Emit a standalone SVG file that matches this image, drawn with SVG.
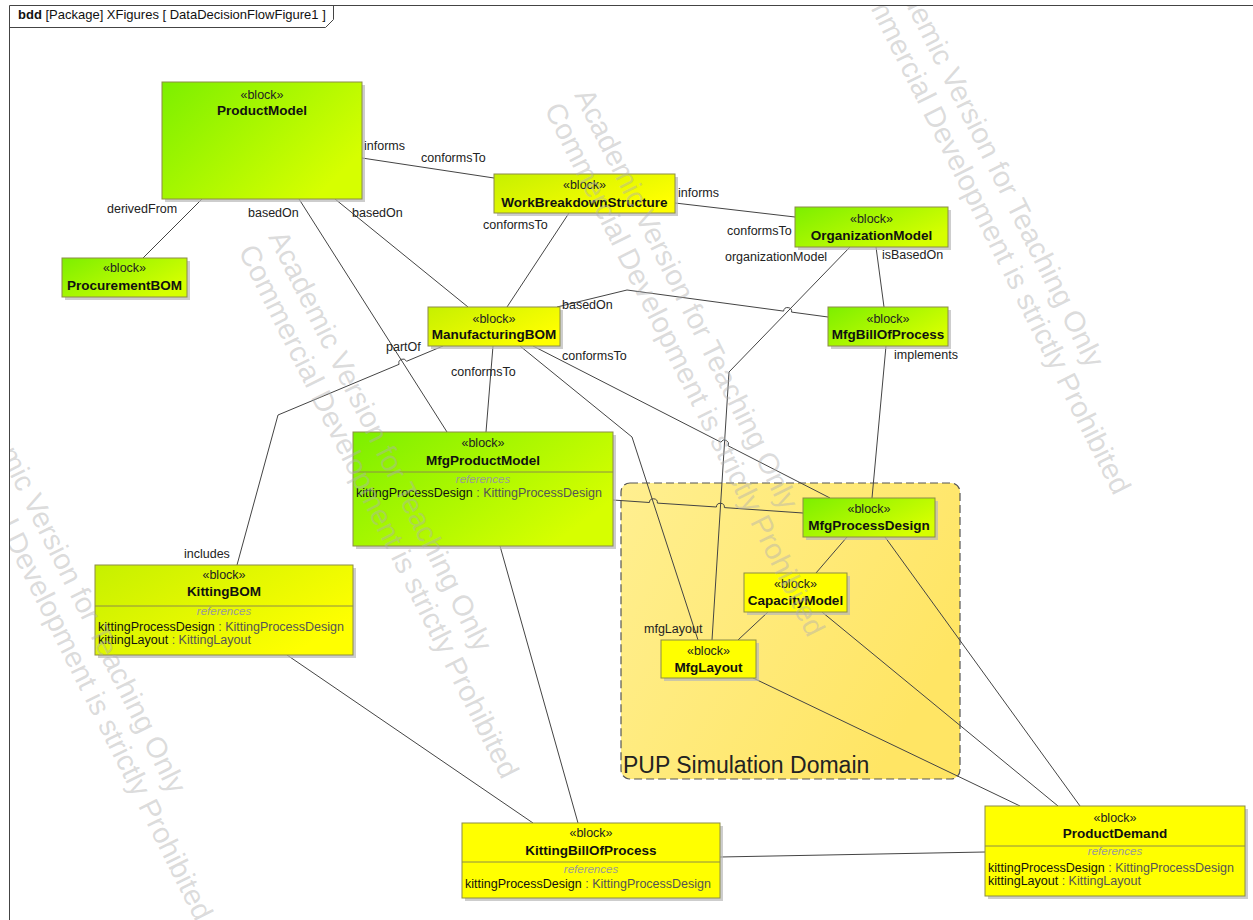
<svg xmlns="http://www.w3.org/2000/svg" width="1253" height="920" viewBox="0 0 1253 920">
  <defs>
    <linearGradient id="gGreen" x1="0" y1="0" x2="1" y2="0.6">
      <stop offset="0" stop-color="#7cef00"/>
      <stop offset="1" stop-color="#d6ff00"/>
    </linearGradient>
    <linearGradient id="gLime" x1="0" y1="0" x2="1" y2="0.6">
      <stop offset="0" stop-color="#c6f000"/>
      <stop offset="1" stop-color="#ffff00"/>
    </linearGradient>
    <linearGradient id="gDomain" x1="0" y1="0" x2="1" y2="0.5">
      <stop offset="0" stop-color="#ffef90"/>
      <stop offset="1" stop-color="#ffe564"/>
    </linearGradient>
    <clipPath id="sheet">
      <rect x="10" y="6" width="1243" height="914"/>
    </clipPath>
    <style>
      text { font-family: "Liberation Sans", Arial, sans-serif; }
      .sh { fill: #b8b8b8; opacity: 0.7; }
      .box { stroke: #8c8c48; stroke-width: 1; }
      .green { fill: url(#gGreen); }
      .lime { fill: url(#gLime); }
      .yellow { fill: #ffff00; }
      .sep { stroke: #8c8c48; stroke-width: 1; }
      .st { font-size: 12.5px; text-anchor: middle; fill: #222; }
      .nm { font-size: 13.5px; font-weight: bold; text-anchor: middle; fill: #111; }
      .ref { font-size: 11.5px; font-style: italic; text-anchor: middle; fill: #999; }
      .at { font-size: 12.5px; fill: #111; }
      .ty { fill: #555; }
      .lb { font-size: 12.5px; fill: #222; }
      .wm { font-size: 29px; fill: #b0b0b0; fill-opacity: 0.45; }
    </style>
  </defs>

  <rect width="1253" height="920" fill="#ffffff"/>

  <!-- diagram frame with name tab -->
  <g id="frame" fill="none" stroke="#444" stroke-width="1">
    <path d="M9.5 920 L9.5 5.5 L1253 5.5"/>
    <path d="M9.5 27.5 L325.5 27.5 L333.5 19.5 L333.5 5.5"/>
  </g>
  <text x="18" y="19" font-size="13" fill="#111"><tspan font-weight="bold">bdd</tspan> [Package] XFigures [ DataDecisionFlowFigure1 ]</text>

  <!-- simulation domain boundary -->
  <g id="PUPSimulationDomain">
    <rect x="621" y="483" width="339" height="296" rx="9" ry="9" fill="url(#gDomain)" stroke="#555" stroke-width="1.2" stroke-dasharray="8 4"/>
    <text x="623" y="773" font-size="23" fill="#222">PUP Simulation Domain</text>
  </g>

  <!-- connectors -->
  <g id="connectors" fill="none" stroke="#444" stroke-width="1">
    <path d="M362 158 L494 178"/>
    <path d="M202 199 L143 258"/>
    <path d="M299 199 L447 432"/>
    <path d="M335 199 L468 307"/>
    <path d="M569 213 L507 307"/>
    <path d="M675 203 L795 217"/>
    <path d="M876 247 L884 307"/>
    <path d="M850 247 L729 372 L712 640"/>
    <path d="M557 307 L627 290 L783.6 311.1 A4 4 0 0 1 791.6 312.1 L828 317"/>
    <path d="M886 346 L872 498"/>
    <path d="M493 346 L486 432"/>
    <path d="M520 346 L632 437 L698 640"/>
    <path d="M533 346 L720.9 442.2 A4 4 0 0 1 728.1 445.8 L830 498"/>
    <path d="M613 500 L649.4 502.5 A4 4 0 0 1 657.4 503.1 L716.4 507.0 A4 4 0 0 1 724.4 507.6 L803 513"/>
    <path d="M237 565 L278 415 L399.1 364.3 A4 4 0 0 1 406.5 361.3 L443 346"/>
    <path d="M500 546 L578 823"/>
    <path d="M287 655 L533 823"/>
    <path d="M720 857 L985 852"/>
    <path d="M753 678 L1020 806"/>
    <path d="M822 612 L1058 806"/>
    <path d="M885 537 L1080 806"/>
    <path d="M847 537 L816 573"/>
    <path d="M768 612 L738 640"/>
  </g>
  <g id="connector-labels" class="lb">
    <text class="lb" x="364" y="150">informs</text>
    <text class="lb" x="421" y="162">conformsTo</text>
    <text class="lb" x="107" y="213">derivedFrom</text>
    <text class="lb" x="248" y="217">basedOn</text>
    <text class="lb" x="352" y="217">basedOn</text>
    <text class="lb" x="483" y="229">conformsTo</text>
    <text class="lb" x="678" y="197">informs</text>
    <text class="lb" x="727" y="235">conformsTo</text>
    <text class="lb" x="725" y="261">organizationModel</text>
    <text class="lb" x="882" y="259">isBasedOn</text>
    <text class="lb" x="562" y="309">basedOn</text>
    <text class="lb" x="894" y="359">implements</text>
    <text class="lb" x="386" y="351">partOf</text>
    <text class="lb" x="451" y="376">conformsTo</text>
    <text class="lb" x="562" y="360">conformsTo</text>
    <text class="lb" x="184" y="558">includes</text>
    <text class="lb" x="644" y="633">mfgLayout</text>
  </g>

  <!-- blocks -->
  <g id="ProductModel">
    <rect class="sh" x="165" y="85" width="200" height="117"/>
    <rect class="box green" x="162" y="82" width="200" height="117"/>
    <text class="st" x="262" y="99">«block»</text>
    <text class="nm" x="262" y="115">ProductModel</text>
  </g>

  <g id="ProcurementBOM">
    <rect class="sh" x="65" y="261" width="125" height="39"/>
    <rect class="box green" x="62" y="258" width="125" height="39"/>
    <text class="st" x="124.5" y="272">«block»</text>
    <text class="nm" x="124.5" y="290">ProcurementBOM</text>
  </g>

  <g id="WorkBreakdownStructure">
    <rect class="sh" x="497" y="177" width="181" height="39"/>
    <rect class="box lime" x="494" y="174" width="181" height="39"/>
    <text class="st" x="584.5" y="189">«block»</text>
    <text class="nm" x="584.5" y="207">WorkBreakdownStructure</text>
  </g>

  <g id="OrganizationModel">
    <rect class="sh" x="798" y="210" width="153" height="40"/>
    <rect class="box green" x="795" y="207" width="153" height="40"/>
    <text class="st" x="871.5" y="223">«block»</text>
    <text class="nm" x="871.5" y="240">OrganizationModel</text>
  </g>

  <g id="MfgBillOfProcess">
    <rect class="sh" x="831" y="310" width="120" height="39"/>
    <rect class="box green" x="828" y="307" width="120" height="39"/>
    <text class="st" x="888" y="323">«block»</text>
    <text class="nm" x="888" y="339">MfgBillOfProcess</text>
  </g>

  <g id="ManufacturingBOM">
    <rect class="sh" x="431" y="310" width="132" height="39"/>
    <rect class="box lime" x="428" y="307" width="132" height="39"/>
    <text class="st" x="494" y="323">«block»</text>
    <text class="nm" x="494" y="339">ManufacturingBOM</text>
  </g>

  <g id="MfgProductModel">
    <rect class="sh" x="356" y="435" width="260" height="114"/>
    <rect class="box green" x="353" y="432" width="260" height="114"/>
    <line class="sep" x1="353" y1="472" x2="613" y2="472"/>
    <text class="st" x="483" y="447">«block»</text>
    <text class="nm" x="483" y="465">MfgProductModel</text>
    <text class="ref" x="483" y="483">references</text>
    <text class="at" x="356" y="497">kittingProcessDesign<tspan class="ty"> : KittingProcessDesign</tspan></text>
  </g>

  <g id="KittingBOM">
    <rect class="sh" x="98" y="568" width="258" height="90"/>
    <rect class="box lime" x="95" y="565" width="258" height="90"/>
    <line class="sep" x1="95" y1="606" x2="353" y2="606"/>
    <text class="st" x="224" y="579">«block»</text>
    <text class="nm" x="224" y="596">KittingBOM</text>
    <text class="ref" x="224" y="615">references</text>
    <text class="at" x="98" y="631">kittingProcessDesign<tspan class="ty"> : KittingProcessDesign</tspan></text>
    <text class="at" x="98" y="644">kittingLayout<tspan class="ty"> : KittingLayout</tspan></text>
  </g>

  <g id="MfgProcessDesign">
    <rect class="sh" x="806" y="501" width="132" height="39"/>
    <rect class="box green" x="803" y="498" width="132" height="39"/>
    <text class="st" x="869" y="513">«block»</text>
    <text class="nm" x="869" y="530">MfgProcessDesign</text>
  </g>

  <g id="CapacityModel">
    <rect class="sh" x="747" y="576" width="103" height="39"/>
    <rect class="box yellow" x="744" y="573" width="103" height="39"/>
    <text class="st" x="795.5" y="588">«block»</text>
    <text class="nm" x="795.5" y="605">CapacityModel</text>
  </g>

  <g id="MfgLayout">
    <rect class="sh" x="664" y="643" width="95" height="38"/>
    <rect class="box yellow" x="661" y="640" width="95" height="38"/>
    <text class="st" x="708.5" y="655">«block»</text>
    <text class="nm" x="708.5" y="672">MfgLayout</text>
  </g>

  <g id="KittingBillOfProcess">
    <rect class="sh" x="465" y="826" width="258" height="75"/>
    <rect class="box yellow" x="462" y="823" width="258" height="75"/>
    <line class="sep" x1="462" y1="862" x2="720" y2="862"/>
    <text class="st" x="591" y="837">«block»</text>
    <text class="nm" x="591" y="855">KittingBillOfProcess</text>
    <text class="ref" x="591" y="873">references</text>
    <text class="at" x="465" y="888">kittingProcessDesign<tspan class="ty"> : KittingProcessDesign</tspan></text>
  </g>

  <g id="ProductDemand">
    <rect class="sh" x="988" y="809" width="260" height="90"/>
    <rect class="box yellow" x="985" y="806" width="260" height="90"/>
    <line class="sep" x1="985" y1="846" x2="1245" y2="846"/>
    <text class="st" x="1115" y="822">«block»</text>
    <text class="nm" x="1115" y="838">ProductDemand</text>
    <text class="ref" x="1115" y="855">references</text>
    <text class="at" x="988" y="872">kittingProcessDesign<tspan class="ty"> : KittingProcessDesign</tspan></text>
    <text class="at" x="988" y="885">kittingLayout<tspan class="ty"> : KittingLayout</tspan></text>
  </g>

  <!-- licence watermark, repeated diagonally over the sheet, kept inside the frame -->
  <g id="watermark" class="wm" clip-path="url(#sheet)">
    <text class="wm" transform="translate(-38 379) rotate(63.5)">Academic Version for Teaching Only</text>
    <text class="wm" transform="translate(-68 393) rotate(63.5)">Commercial Development is strictly Prohibited</text>
    <text class="wm" transform="translate(268 237) rotate(63.5)">Academic Version for Teaching Only</text>
    <text class="wm" transform="translate(238 251) rotate(63.5)">Commercial Development is strictly Prohibited</text>
    <text class="wm" transform="translate(574 95) rotate(63.5)">Academic Version for Teaching Only</text>
    <text class="wm" transform="translate(544 109) rotate(63.5)">Commercial Development is strictly Prohibited</text>
    <text class="wm" transform="translate(880 -47) rotate(63.5)">Academic Version for Teaching Only</text>
    <text class="wm" transform="translate(850 -33) rotate(63.5)">Commercial Development is strictly Prohibited</text>
  </g>
</svg>
